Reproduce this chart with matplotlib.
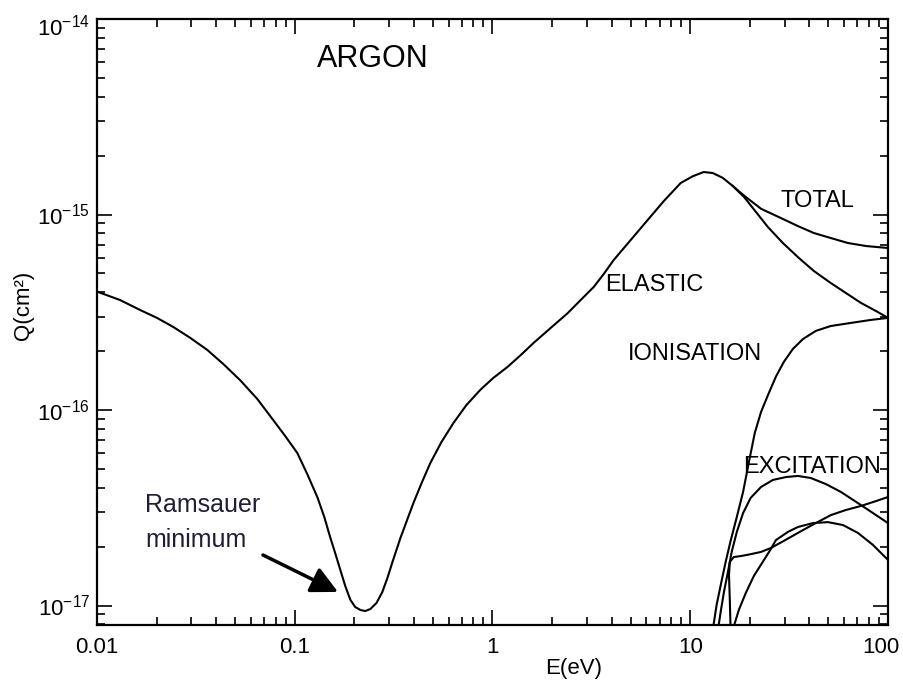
import matplotlib
matplotlib.use('Agg')
import matplotlib.pyplot as plt
import matplotlib.transforms as mtransforms
from matplotlib.ticker import LogLocator, NullFormatter

plt.rcParams['font.family'] = ['Liberation Sans', 'DejaVu Sans']

# cross sections (E in eV, Q in cm^2)
e_elastic = [0.0101, 0.0131, 0.0165, 0.0201, 0.0243, 0.0296, 0.0361, 0.0435,
             0.053, 0.0646, 0.0778, 0.0895, 0.103, 0.1156, 0.13, 0.141, 0.151,
             0.16, 0.17, 0.18, 0.191, 0.202, 0.215, 0.227, 0.241, 0.259,
             0.277, 0.294, 0.312, 0.342, 0.398, 0.438, 0.485, 0.552, 0.635,
             0.738, 0.869, 1.01, 1.19, 1.39, 1.61, 1.97, 2.40, 2.79, 3.25,
             3.65, 4.10, 5.00, 6.09, 7.34, 8.95, 10.3, 11.7, 13.0, 14.6,
             16.4, 18.7, 21.5, 24.7, 29.4, 35.0, 42.2, 51.4, 61.2, 73.0,
             86.9, 100]
q_elastic = [4.02e-16, 3.65e-16, 3.25e-16, 2.96e-16, 2.66e-16, 2.34e-16,
             2.03e-16, 1.72e-16, 1.42e-16, 1.14e-16, 8.89e-17, 7.36e-17,
             6.03e-17, 4.71e-17, 3.59e-17, 2.84e-17, 2.24e-17, 1.86e-17,
             1.52e-17, 1.26e-17, 1.07e-17, 9.83e-18, 9.48e-18, 9.37e-18,
             9.59e-18, 1.03e-17, 1.17e-17, 1.38e-17, 1.67e-17, 2.21e-17,
             3.34e-17, 4.23e-17, 5.36e-17, 6.86e-17, 8.59e-17, 1.06e-16,
             1.27e-16, 1.46e-16, 1.66e-16, 1.91e-16, 2.20e-16, 2.63e-16,
             3.13e-16, 3.65e-16, 4.26e-16, 4.96e-16, 5.85e-16, 7.41e-16,
             9.37e-16, 1.17e-15, 1.45e-15, 1.57e-15, 1.65e-15, 1.63e-15,
             1.54e-15, 1.40e-15, 1.23e-15, 1.03e-15, 8.63e-16, 7.15e-16,
             6.06e-16, 5.14e-16, 4.46e-16, 3.97e-16, 3.53e-16, 3.21e-16,
             2.96e-16]

e_total = [16.4, 18.7, 22.8, 28.7, 35.0, 42.2, 51.4, 62.7, 77.4, 100]
q_total = [1.40e-15, 1.25e-15, 1.07e-15, 9.6e-16, 8.73e-16, 8.04e-16,
           7.58e-16, 7.15e-16, 6.9e-16, 6.74e-16]

e_ion = [13.0, 13.6, 14.3, 15.1, 16.0, 17.2, 18.5, 19.8, 21.2, 22.8, 24.7,
         27.1, 29.7, 33.0, 37.2, 43.2, 51.4, 65.0, 82.0, 100]
q_ion = [7.5e-18, 1.01e-17, 1.29e-17, 1.67e-17, 2.14e-17, 2.84e-17, 3.81e-17,
         5.42e-17, 7.63e-17, 9.77e-17, 1.19e-16, 1.48e-16, 1.76e-16, 2.05e-16,
         2.31e-16, 2.54e-16, 2.69e-16, 2.79e-16, 2.89e-16, 2.96e-16]

e_exc1 = [13.8, 14.3, 14.8, 15.5, 16.2, 17.2, 18.5, 20.2, 22.8, 26.2, 30.5,
          35.0, 40.7, 48.5, 57.8, 70.5, 84.0, 100]
q_exc1 = [7.5e-18, 9.48e-18, 1.17e-17, 1.48e-17, 1.88e-17, 2.38e-17,
          2.97e-17, 3.55e-17, 4.04e-17, 4.39e-17, 4.54e-17, 4.60e-17,
          4.49e-17, 4.18e-17, 3.81e-17, 3.34e-17, 2.97e-17, 2.64e-17]

e_exc2 = [16.0, 15.85, 15.7, 15.85, 16.6, 18.0, 20.2, 22.8, 25.6, 29.7, 35.0,
          42.2, 51.4, 61.2, 73.0, 86.9, 100]
q_exc2 = [7.5e-18, 1.07e-17, 1.43e-17, 1.67e-17, 1.77e-17, 1.79e-17,
          1.83e-17, 1.88e-17, 1.97e-17, 2.14e-17, 2.35e-17, 2.61e-17,
          2.90e-17, 3.08e-17, 3.23e-17, 3.42e-17, 3.59e-17]

e_exc3 = [16.4, 17.6, 19.1, 21.0, 23.6, 25.6, 27.1, 31.2, 35.0, 41.7, 49.7,
          59.2, 70.5, 84.0, 100]
q_exc3 = [7.5e-18, 9.48e-18, 1.16e-17, 1.42e-17, 1.71e-17, 1.95e-17,
          2.16e-17, 2.38e-17, 2.52e-17, 2.64e-17, 2.67e-17, 2.58e-17,
          2.35e-17, 2.04e-17, 1.71e-17]

x_ticks = [0.01, 0.1, 1, 10, 100]
x_labels = ['0.01', '0.1', '1', '10', '100']
y_ticks = [1e-17, 1e-16, 1e-15, 1e-14]
y_labels = [r'$\mathdefault{10^{-17}}$', r'$\mathdefault{10^{-16}}$',
            r'$\mathdefault{10^{-15}}$', r'$\mathdefault{10^{-14}}$']

fig = plt.figure(figsize=(9.04, 6.82), dpi=100)
ax = fig.add_axes([0.1073, 0.0836, 0.875, 0.8885])
ax.set_xscale('log')
ax.set_yscale('log')

for e, q in [(e_elastic, q_elastic), (e_total, q_total), (e_ion, q_ion),
             (e_exc1, q_exc1), (e_exc2, q_exc2), (e_exc3, q_exc3)]:
    ax.plot(e, q, color='black', lw=1.5, solid_joinstyle='round')

ax.set_xlim(0.01, 100)
ax.set_ylim(7.95e-18, 1e-14)

ax.set_xticks(x_ticks, x_labels)
ax.set_yticks(y_ticks, y_labels)
ax.xaxis.set_minor_locator(LogLocator(base=10, subs=range(2, 10)))
ax.xaxis.set_minor_formatter(NullFormatter())
ax.yaxis.set_minor_locator(LogLocator(base=10, subs=range(2, 10)))
ax.yaxis.set_minor_formatter(NullFormatter())

ax.tick_params(which='both', direction='in', top=True, right=True,
               width=1.2, labelsize=16)
ax.tick_params(which='major', length=11)
ax.tick_params(which='minor', length=5.5)
ax.tick_params(axis='x', which='major', pad=9)
ax.tick_params(axis='y', which='major', pad=5)
for s in ax.spines.values():
    s.set_linewidth(1.6)

# keep the outermost labels inside the figure
last = ax.get_xticklabels()[-1]
last.set_transform(last.get_transform() +
                   mtransforms.ScaledTranslation(-5 / 72, 0, fig.dpi_scale_trans))
top = ax.get_yticklabels()[-1]
top.set_transform(top.get_transform() +
                  mtransforms.ScaledTranslation(0, -4 / 72, fig.dpi_scale_trans))

ax.set_xlabel('E(eV)', fontsize=16)
ax.xaxis.set_label_coords(0.602, -0.055)
ax.set_ylabel('Q(cm²)', fontsize=16)
ax.yaxis.set_label_coords(-0.080, 0.528)

ax.text(0.2781, 0.9208, 'ARGON', transform=ax.transAxes, fontsize=22,
        va='baseline', ha='left')
ax.text(0.8635, 0.6898, 'TOTAL', transform=ax.transAxes, fontsize=17,
        va='baseline', ha='left')
ax.text(0.6422, 0.5512, 'ELASTIC', transform=ax.transAxes, fontsize=17,
        va='baseline', ha='left')
ax.text(0.6713, 0.4373, 'IONISATION', transform=ax.transAxes, fontsize=17,
        va='baseline', ha='left')
ax.text(0.8167, 0.2508, 'EXCITATION', transform=ax.transAxes, fontsize=17,
        va='baseline', ha='left')

ax.text(0.0607, 0.1865, 'Ramsauer', transform=ax.transAxes, fontsize=18,
        va='baseline', ha='left', color='#1e1e3c')
ax.text(0.0607, 0.1287, 'minimum', transform=ax.transAxes, fontsize=18,
        va='baseline', ha='left', color='#1e1e3c')
ax.annotate('', xy=(0.3047, 0.0545), xytext=(0.2098, 0.1155),
            xycoords='axes fraction', textcoords='axes fraction',
            arrowprops=dict(arrowstyle='-|>,head_length=0.9,head_width=0.45',
                            lw=2.5, color='black', mutation_scale=18,
                            shrinkA=0, shrinkB=0))

fig.savefig('out.png', dpi=100)
